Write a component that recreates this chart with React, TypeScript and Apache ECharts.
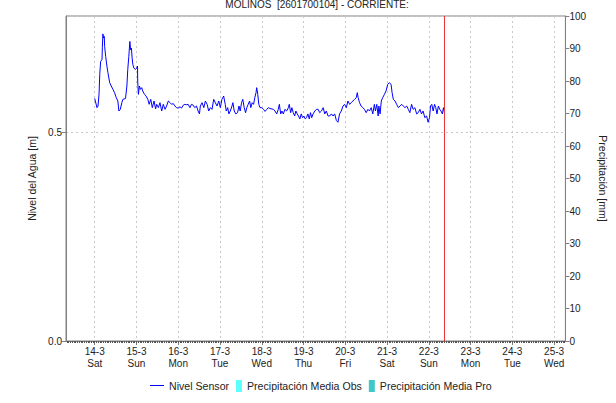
import React, { useEffect, useRef } from 'react';
import * as echarts from 'echarts';

// Hours since 14-3 00:00
const sensorHours = [
  0, 1.3, 1.9, 2.5, 2.9, 3.4, 4.2, 4.4, 4.7, 5.1, 5.5, 5.7, 6.3, 7.0, 7.6, 8.6, 9.5, 10.5, 11.4, 12.4,
  13.3, 13.9, 14.7, 15.6, 16.2, 17.7, 18.5, 19.0, 19.6, 20.2, 20.6, 21.1, 21.5, 21.9, 22.5, 23.4, 24.2, 24.6, 24.7, 25.1,
  25.7, 26.3, 27.0, 27.6, 28.6, 29.5, 30.5, 31.3, 32.2, 33.1, 34.1, 35.0, 35.6, 36.6, 37.5, 38.5, 39.4, 40.4, 41.3, 42.3,
  43.3, 44.2, 45.1, 46.1, 47.0, 48.0, 49.0, 49.9, 50.9, 51.8, 52.7, 53.7, 54.7, 55.6, 56.6, 57.5, 58.5, 59.4, 60.2, 60.7,
  61.7, 62.7, 63.6, 64.6, 65.5, 66.5, 67.4, 68.4, 69.3, 70.3, 71.3, 72.2, 73.1, 74.1, 75.0, 75.6, 76.4, 77.1, 77.9, 78.9,
  79.4, 80.2, 81.1, 82.1, 82.9, 83.6, 84.4, 85.1, 85.9, 86.7, 87.4, 88.2, 89.0, 89.7, 90.5, 91.3, 92.0, 92.7, 93.1, 93.7,
  94.3, 95.0, 96.0, 97.0, 97.9, 98.9, 99.8, 100.7, 102.7, 103.6, 104.6, 105.5, 106.1, 106.9, 107.6, 108.4, 109.3, 110.3, 111.3, 111.8,
  112.6, 113.3, 114.1, 114.9, 115.6, 116.4, 117.1, 117.9, 118.7, 119.4, 120.2, 121.0, 121.7, 122.5, 123.3, 124.0, 124.7, 125.5, 126.5, 127.4,
  128.4, 129.3, 130.3, 131.3, 132.2, 133.1, 134.1, 135.0, 136.0, 137.0, 137.9, 138.9, 139.8, 140.7, 141.7, 142.7, 143.6, 144.6, 145.5, 146.5,
  147.4, 148.4, 149.3, 150.3, 150.9, 151.4, 152.2, 153.1, 154.1, 155.0, 156.0, 157.0, 157.9, 158.9, 159.8, 160.7, 161.3, 162.1, 162.9, 163.3,
  164.0, 164.7, 165.5, 166.5, 167.4, 168.4, 169.3, 170.3, 170.9, 171.6, 172.6, 173.5, 174.5, 175.4, 176.4, 177.3, 178.3, 179.3, 180.2, 181.1,
  182.1, 183.0, 184.0, 185.0, 185.9, 186.9, 187.8, 188.7, 189.7, 190.7, 191.6, 192.4, 193.0, 193.7, 194.5, 195.3, 196.0, 196.7, 197.5, 198.3,
  199.0, 199.8, 200.4, 201.0,
];

const sensorLevel = [
  0.582, 0.560, 0.564, 0.593, 0.640, 0.671, 0.676, 0.705, 0.737, 0.727, 0.731, 0.707, 0.683, 0.660, 0.644, 0.620, 0.612, 0.604, 0.596, 0.584,
  0.576, 0.552, 0.556, 0.572, 0.580, 0.582, 0.612, 0.652, 0.683, 0.719, 0.699, 0.703, 0.679, 0.664, 0.655, 0.652, 0.655, 0.660, 0.624, 0.592,
  0.612, 0.604, 0.608, 0.600, 0.592, 0.588, 0.580, 0.568, 0.580, 0.560, 0.576, 0.557, 0.568, 0.560, 0.572, 0.552, 0.568, 0.556, 0.564, 0.576,
  0.572, 0.568, 0.570, 0.564, 0.560, 0.559, 0.562, 0.559, 0.566, 0.568, 0.567, 0.568, 0.560, 0.568, 0.566, 0.560, 0.564, 0.552, 0.545, 0.564,
  0.572, 0.560, 0.576, 0.568, 0.552, 0.560, 0.556, 0.580, 0.572, 0.564, 0.576, 0.560, 0.580, 0.588, 0.568, 0.552, 0.560, 0.545, 0.552, 0.564,
  0.572, 0.552, 0.545, 0.548, 0.564, 0.552, 0.572, 0.580, 0.560, 0.548, 0.560, 0.568, 0.576, 0.560, 0.572, 0.568, 0.584, 0.596, 0.608, 0.592,
  0.568, 0.560, 0.560, 0.556, 0.551, 0.556, 0.560, 0.558, 0.556, 0.552, 0.545, 0.556, 0.568, 0.545, 0.552, 0.545, 0.556, 0.552, 0.560, 0.568,
  0.548, 0.560, 0.548, 0.540, 0.552, 0.545, 0.540, 0.533, 0.545, 0.536, 0.540, 0.533, 0.536, 0.545, 0.533, 0.548, 0.536, 0.545, 0.552, 0.556,
  0.556, 0.548, 0.552, 0.560, 0.545, 0.552, 0.540, 0.540, 0.545, 0.540, 0.545, 0.529, 0.525, 0.545, 0.552, 0.564, 0.568, 0.560, 0.576, 0.568,
  0.572, 0.576, 0.580, 0.584, 0.596, 0.584, 0.572, 0.564, 0.560, 0.556, 0.548, 0.556, 0.552, 0.560, 0.545, 0.568, 0.552, 0.568, 0.540, 0.564,
  0.545, 0.576, 0.584, 0.592, 0.600, 0.616, 0.620, 0.616, 0.596, 0.580, 0.576, 0.568, 0.560, 0.564, 0.568, 0.564, 0.560, 0.564, 0.556, 0.548,
  0.568, 0.556, 0.560, 0.545, 0.548, 0.556, 0.545, 0.552, 0.536, 0.540, 0.525, 0.536, 0.564, 0.568, 0.552, 0.568, 0.560, 0.545, 0.564, 0.556,
  0.552, 0.545, 0.560, 0.548,
];

const precipObs: number[][] = [];
const precipPro: number[][] = [];

const dayHours = [0, 24, 48, 72, 96, 120, 144, 168, 192, 216, 240, 264];
const dayDates = ['14-3', '15-3', '16-3', '17-3', '18-3', '19-3', '20-3', '21-3', '22-3', '23-3', '24-3', '25-3'];
const dayNames = ['Sat', 'Sun', 'Mon', 'Tue', 'Wed', 'Thu', 'Fri', 'Sat', 'Sun', 'Mon', 'Tue', 'Wed'];
const hourTicks = Array.from({ length: 287 }, (_, i) => i - 16);

const xMin = -16.5;
const xMax = 270.5;
const yLevelMax = 0.78;
const nowHour = 201;

const FONT = '"Liberation Sans", Arial, sans-serif';
const TEXT = '#222';
const AXIS = '#808080';
const LEGEND_FS = 10.6;

export default function App() {
  const ref = useRef<HTMLDivElement>(null);
  useEffect(() => {
    if (!ref.current) return;
    const chart = echarts.init(ref.current, undefined, { renderer: 'svg' });
    chart.setOption({
      animation: false,
      backgroundColor: '#fff',
      textStyle: { fontFamily: FONT, color: TEXT },
      title: {
        text: 'MOLINOS  [2601700104] - CORRIENTE:',
        left: 317,
        textAlign: 'center',
        top: -1,
        padding: 0,
        textStyle: { fontSize: 10, fontWeight: 'normal', color: TEXT, fontFamily: FONT },
      },
      grid: { left: 66, right: 48, top: 16, bottom: 62, show: true, borderColor: AXIS, borderWidth: 1 },
      legend: [
        {
          data: [
            {
              name: 'Nivel Sensor',
              icon: 'rect',
              itemStyle: { color: '#0000ff', borderWidth: 0, borderColor: '#0000ff' },
              lineStyle: { color: '#0000ff', width: 0, opacity: 0 },
            },
          ],
          left: 150,
          top: 380,
          itemWidth: 14,
          itemHeight: 1,
          padding: 0,
          textStyle: { fontSize: LEGEND_FS, color: TEXT, fontFamily: FONT },
        },
        {
          data: ['Precipitación Media Obs', 'Precipitación Media Pro'],
          left: 236,
          top: 380,
          itemWidth: 6,
          itemHeight: 12,
          itemGap: 7,
          icon: 'rect',
          padding: 0,
          textStyle: { fontSize: LEGEND_FS, color: TEXT, fontFamily: FONT },
        },
      ],
      xAxis: [
        {
          type: 'value',
          min: xMin,
          max: xMax,
          position: 'bottom',
          axisLine: { show: true, onZero: false, lineStyle: { color: AXIS } },
          axisTick: { show: true, customValues: dayHours, length: 4, lineStyle: { color: AXIS } },
          axisLabel: {
            customValues: dayHours,
            fontSize: 10,
            color: TEXT,
            lineHeight: 12,
            margin: 4,
            formatter: (v: number) => {
              const i = dayHours.indexOf(v);
              return i < 0 ? '' : dayDates[i] + '\n' + dayNames[i];
            },
          },
          splitLine: { show: true, lineStyle: { color: '#c8c8c8', type: [2, 3] } },
        },
        {
          type: 'value',
          min: xMin,
          max: xMax,
          position: 'bottom',
          offset: 0,
          axisLine: { show: true, onZero: false, lineStyle: { color: AXIS } },
          axisTick: { show: true, customValues: hourTicks, length: 2, lineStyle: { color: '#555' } },
          axisLabel: { show: false, customValues: hourTicks },
          splitLine: { show: false },
        },
      ],
      yAxis: [
        {
          type: 'value',
          min: 0,
          max: yLevelMax,
          interval: 0.5,
          position: 'left',
          name: 'Nivel del Agua [m]',
          nameLocation: 'middle',
          nameGap: 20,
          nameTextStyle: { fontSize: 10.5, color: TEXT, fontFamily: FONT },
          axisLine: { show: true, onZero: false, lineStyle: { color: AXIS } },
          axisTick: { show: true, length: 4, lineStyle: { color: AXIS } },
          axisLabel: {
            fontSize: 10,
            color: TEXT,
            margin: 4,
            showMaxLabel: false,
            formatter: (v: number) => (v === 0 || v === 0.5 ? v.toFixed(1) : ''),
          },
          splitLine: { show: true, lineStyle: { color: '#c8c8c8', type: [2, 3] } },
        },
        {
          type: 'value',
          min: 0,
          max: 100,
          interval: 10,
          position: 'right',
          name: 'Precipitación [mm]',
          nameLocation: 'middle',
          nameRotate: -90,
          nameGap: 28,
          nameTextStyle: { fontSize: 10.5, color: TEXT, fontFamily: FONT },
          axisLine: { show: true, onZero: false, lineStyle: { color: AXIS } },
          axisTick: { show: true, length: 4, lineStyle: { color: AXIS } },
          axisLabel: { fontSize: 10, color: TEXT, margin: 4 },
          splitLine: { show: false },
        },
      ],
      series: [
        {
          name: 'Nivel Sensor',
          type: 'line',
          xAxisIndex: 0,
          yAxisIndex: 0,
          data: sensorHours.map((h, i) => [h, sensorLevel[i]]),
          showSymbol: false,
          symbol: 'none',
          lineStyle: { color: '#0000ff', width: 1 },
          itemStyle: { color: '#0000ff' },
          z: 3,
        },
        {
          name: 'Ahora',
          type: 'line',
          xAxisIndex: 0,
          yAxisIndex: 0,
          data: [
            [nowHour, 0],
            [nowHour, yLevelMax],
          ],
          showSymbol: false,
          symbol: 'none',
          lineStyle: { color: '#f03030', width: 1 },
          itemStyle: { color: '#f03030' },
          z: 4,
        },
        {
          name: 'Precipitación Media Obs',
          type: 'bar',
          xAxisIndex: 0,
          yAxisIndex: 1,
          data: precipObs,
          itemStyle: { color: '#5cffff' },
        },
        {
          name: 'Precipitación Media Pro',
          type: 'bar',
          xAxisIndex: 0,
          yAxisIndex: 1,
          data: precipPro,
          itemStyle: { color: '#40c8c8' },
        },
      ],
    });
    return () => chart.dispose();
  }, []);
  return <div ref={ref} style={{ position: 'fixed', left: 0, top: 0, width: 616, height: 403, background: '#fff' }} />;
}
